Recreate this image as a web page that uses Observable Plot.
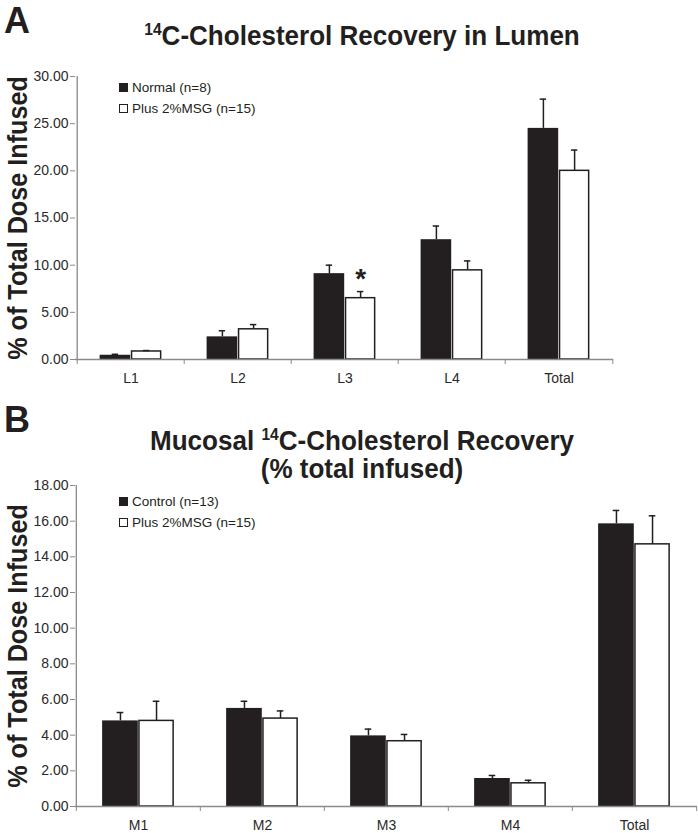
<!DOCTYPE html>
<html><head><meta charset="utf-8">
<script src="https://cdn.jsdelivr.net/npm/d3@7"></script>
<script src="https://cdn.jsdelivr.net/npm/@observablehq/plot@0.6"></script>
<style>
body{margin:0;background:#fff;font-family:"Liberation Sans",Arial,Helvetica,sans-serif;color:#231f20}
#wrap{position:relative;width:698px;height:833px;overflow:hidden;background:#fff}
.panel{position:absolute;left:0}
.letter{position:absolute;left:4px;font-size:36px;font-weight:bold;line-height:1}
.title{position:absolute;left:0;width:724px;text-align:center;font-size:28px;font-weight:bold;line-height:28px;transform:scaleX(0.93);transform-origin:362px 0}
sup{font-size:0.6em;line-height:0;vertical-align:0.62em}
.legend{position:absolute;left:119px;font-size:13.5px;color:#231f20}
.row{display:flex;align-items:center;height:20px;white-space:nowrap}
.sw{width:7px;height:7px;border:1px solid #231f20;margin-right:4px;background:#fff}
.sw.dark{background:#231f20}
</style>
</head><body>
<div id="wrap">
  <div id="panelA" class="panel" style="top:0"></div>
  <div class="letter" style="top:3px">A</div>
  <div class="title" style="top:22px"><sup>14</sup>C-Cholesterol Recovery in Lumen</div>
  <div class="legend" id="legA" style="top:77px"></div>

  <div id="panelB" class="panel" style="top:400px"></div>
  <div class="letter" style="top:402px">B</div>
  <div class="title" style="top:427px">Mucosal <sup>14</sup>C-Cholesterol Recovery<br>(% total infused)</div>
  <div class="legend" id="legB" style="top:491px"></div>
</div>
<script>
// ---- Data ----
const lumenCategories = ["L1", "L2", "L3", "L4", "Total"];
const lumenNormal     = [0.45, 2.40, 9.10, 12.70, 24.50];
const lumenNormalErr  = [0.10, 0.65, 0.90, 1.45, 3.10];
const lumenMSG        = [0.85, 3.20, 6.50, 9.45, 20.00];
const lumenMSGErr     = [0.10, 0.50, 0.70, 1.00, 2.20];
const lumenSignif     = ["", "", "*", "", ""];
const lumenTicks      = [0, 5, 10, 15, 20, 25, 30];
const lumenSeries     = ["Normal (n=8)", "Plus 2%MSG (n=15)"];

const mucosalCategories = ["M1", "M2", "M3", "M4", "Total"];
const mucosalControl    = [4.80, 5.50, 3.96, 1.57, 15.85];
const mucosalControlErr = [0.47, 0.40, 0.38, 0.17, 0.75];
const mucosalMSG        = [4.80, 4.93, 3.66, 1.30, 14.70];
const mucosalMSGErr     = [1.10, 0.43, 0.38, 0.17, 1.60];
const mucosalSignif     = ["", "", "", "", ""];
const mucosalTicks      = [0, 2, 4, 6, 8, 10, 12, 14, 16, 18];
const mucosalSeries     = ["Control (n=13)", "Plus 2%MSG (n=15)"];

const yLabel = "% of Total Dose Infused";
const INK = "#231f20", AXIS = "#8a8a8a", TXT = "#2a2a2a";

function panel({cats, a, aErr, b, bErr, sig, ticks, width, height, mt, mb, ml, mr}) {
  const rows = cats.map((c, i) => ({cat: c, a: a[i], aErr: aErr[i], b: b[i], bErr: bErr[i], sig: sig[i]}));
  const fw = width - ml - mr;
  const bw = fw / cats.length;
  const outer = bw * 0.21, barW = (bw - 2 * outer) / 2, cap = 3.5;
  const fmt = d3.format(".2f");
  const y0 = ticks[0], y1 = ticks[ticks.length - 1];
  const svg = Plot.plot({
    width, height, marginTop: mt, marginBottom: mb, marginLeft: ml, marginRight: mr,
    style: {fontFamily: '"Liberation Sans", Arial, Helvetica, sans-serif', fontSize: "14px", color: INK, background: "transparent", overflow: "visible"},
    x: {domain: cats, padding: 0, axis: null, label: null},
    y: {domain: [y0, y1], axis: null, label: null},
    marks: [
      Plot.barY(rows, {x: "cat", y: "a", fill: INK, insetLeft: outer, insetRight: outer + barW}),
      Plot.barY(rows, {x: "cat", y: "b", fill: "white", stroke: INK, strokeWidth: 1.5, insetLeft: outer + barW + 0.75, insetRight: outer + 0.75}),
      Plot.ruleX(rows, {x: "cat", y1: "a", y2: d => d.a + d.aErr, dx: -barW / 2, stroke: INK, strokeWidth: 1.5}),
      Plot.tickY(rows, {x: "cat", y: d => d.a + d.aErr, insetLeft: outer + barW / 2 - cap, insetRight: outer + 1.5 * barW - cap, stroke: INK, strokeWidth: 1.5}),
      Plot.ruleX(rows, {x: "cat", y1: "b", y2: d => d.b + d.bErr, dx: barW / 2, stroke: INK, strokeWidth: 1.5}),
      Plot.tickY(rows, {x: "cat", y: d => d.b + d.bErr, insetLeft: outer + 1.5 * barW - cap, insetRight: outer + barW / 2 - cap, stroke: INK, strokeWidth: 1.5}),
      Plot.text(rows.filter(d => d.sig), {x: "cat", y: d => d.b + d.bErr, text: "sig", dx: barW / 2, dy: -13, fontSize: 28, fontWeight: "bold", fill: INK}),
      // axes
      Plot.ruleY([y0], {stroke: AXIS, strokeWidth: 1.3}),
      Plot.ruleX([cats[0]], {x: d => d, dx: -bw / 2, stroke: AXIS, strokeWidth: 1.3}),
      Plot.ruleY(ticks, {y: d => d, insetLeft: -5, insetRight: fw, stroke: AXIS, strokeWidth: 1}),
      Plot.text(ticks, {y: d => d, text: d => fmt(d), frameAnchor: "left", dx: -7, textAnchor: "end", lineAnchor: "middle", fontSize: 14, fill: TXT}),
      Plot.ruleX(cats, {x: d => d, y1: y0, y2: y0, dx: -bw / 2, insetBottom: -5, stroke: AXIS, strokeWidth: 1}),
      Plot.ruleX(cats.slice(-1), {x: d => d, y1: y0, y2: y0, dx: bw / 2, insetBottom: -5, stroke: AXIS, strokeWidth: 1}),
      Plot.text(cats, {x: d => d, text: d => d, frameAnchor: "bottom", dy: 19, textAnchor: "middle", lineAnchor: "middle", fontSize: 14, fill: TXT}),
      Plot.text([yLabel], {text: d => d, y: () => (y0 + y1) / 2, frameAnchor: "left", rotate: -90, dx: -57, textAnchor: "middle", lineAnchor: "middle", fontSize: 28, fontWeight: "bold", fill: INK})
    ]
  });
  // condense the rotated axis title along its length (narrow bold face in the reference)
  svg.querySelectorAll("text").forEach(t => {
    if (t.textContent === yLabel) {
      const tr = t.getAttribute("transform") || "";
      t.setAttribute("transform", tr + " scale(0.9,1)");
    }
  });
  return svg;
}

function legend(el, names) {
  names.forEach((n, i) => {
    const r = document.createElement("div");
    r.className = "row";
    if (i === 0) r.style.height = "21px";
    const s = document.createElement("div");
    s.className = "sw" + (i === 0 ? " dark" : "");
    const t = document.createElement("span");
    t.textContent = n;
    r.appendChild(s); r.appendChild(t);
    el.appendChild(r);
  });
}

document.getElementById("panelA").appendChild(panel({
  cats: lumenCategories, a: lumenNormal, aErr: lumenNormalErr, b: lumenMSG, bErr: lumenMSGErr,
  sig: lumenSignif, ticks: lumenTicks, width: 698, height: 400, mt: 76, mb: 41, ml: 75, mr: 85
}));
document.getElementById("panelB").appendChild(panel({
  cats: mucosalCategories, a: mucosalControl, aErr: mucosalControlErr, b: mucosalMSG, bErr: mucosalMSGErr,
  sig: mucosalSignif, ticks: mucosalTicks, width: 698, height: 433, mt: 85, mb: 27, ml: 75, mr: 1
}));
legend(document.getElementById("legA"), lumenSeries);
legend(document.getElementById("legB"), mucosalSeries);
</script>
</body></html>
